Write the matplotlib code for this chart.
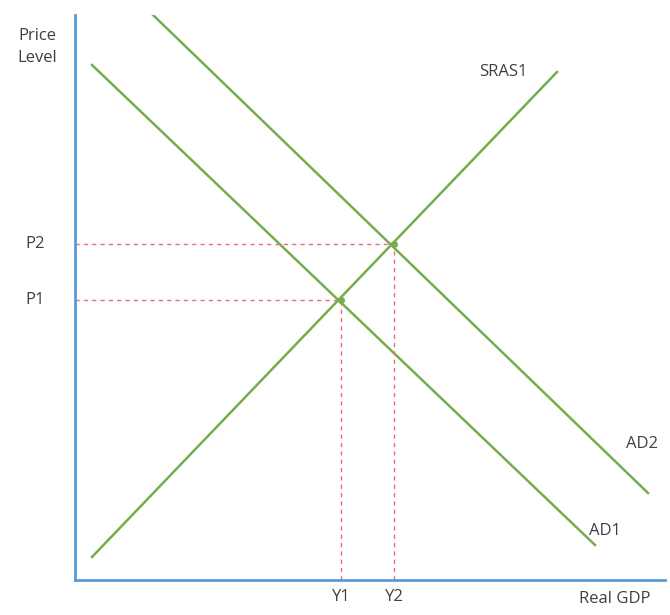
import matplotlib
matplotlib.use("Agg")
import matplotlib.pyplot as plt

# curve end points (x, y) in chart units
sras1_x = [17, 482]
sras1_y = [23, 508]
ad1_x = [17, 520]
ad1_y = [515, 35]
ad2_x = [78, 573]
ad2_y = [565, 87]

# equilibrium points
eq_labels_y = ["Y1", "Y2"]
eq_labels_p = ["P1", "P2"]
eq_x = [266, 319]
eq_y = [280, 336]

green = '#76ad4c'
blue = '#5b9bd5'
red = '#e27070'
txt = '#404040'

plt.rcParams['font.family'] = ['Open Sans', 'DejaVu Sans']

fig = plt.figure(figsize=(6.7, 6.15), dpi=100)
ax = fig.add_axes([75 / 670, 35 / 615, 590 / 670, 565 / 615])
ax.set_xlim(0, 590)
ax.set_ylim(0, 565)

ax.plot(sras1_x, sras1_y, color=green, lw=1.8)
ax.plot(ad1_x, ad1_y, color=green, lw=1.8)
ax.plot(ad2_x, ad2_y, color=green, lw=1.8)

fs = 12
for x, y, ly, lp in zip(eq_x, eq_y, eq_labels_y, eq_labels_p):
    ax.plot([0, x], [y, y], color=red, lw=1, ls=(0, (3, 3)))
    ax.plot([x, x], [0, y], color=red, lw=1, ls=(0, (3, 3)))
    ax.plot(x, y, 'o', color=green, ms=4)
    ax.text(x, -9, ly, ha='center', va='top', fontsize=fs, color=txt, clip_on=False)
    ax.text(-40, y, lp, ha='center', va='center', fontsize=fs, color=txt, clip_on=False)

ax.text(-38, 533, "Price\nLevel", ha='center', va='center', fontsize=fs, color=txt,
        linespacing=1.45, clip_on=False)
ax.text(540, -11, "Real GDP", ha='center', va='top', fontsize=fs, color=txt, clip_on=False)
ax.text(428, 508, "SRAS1", ha='center', va='center', fontsize=fs, color=txt)
ax.text(567, 136, "AD2", ha='center', va='center', fontsize=fs, color=txt)
ax.text(530, 49, "AD1", ha='center', va='center', fontsize=fs, color=txt)

for s in ['top', 'right']:
    ax.spines[s].set_visible(False)
for s in ['left', 'bottom']:
    ax.spines[s].set_color(blue)
    ax.spines[s].set_linewidth(2)
ax.set_xticks([])
ax.set_yticks([])

fig.savefig('out.png', dpi=100)
